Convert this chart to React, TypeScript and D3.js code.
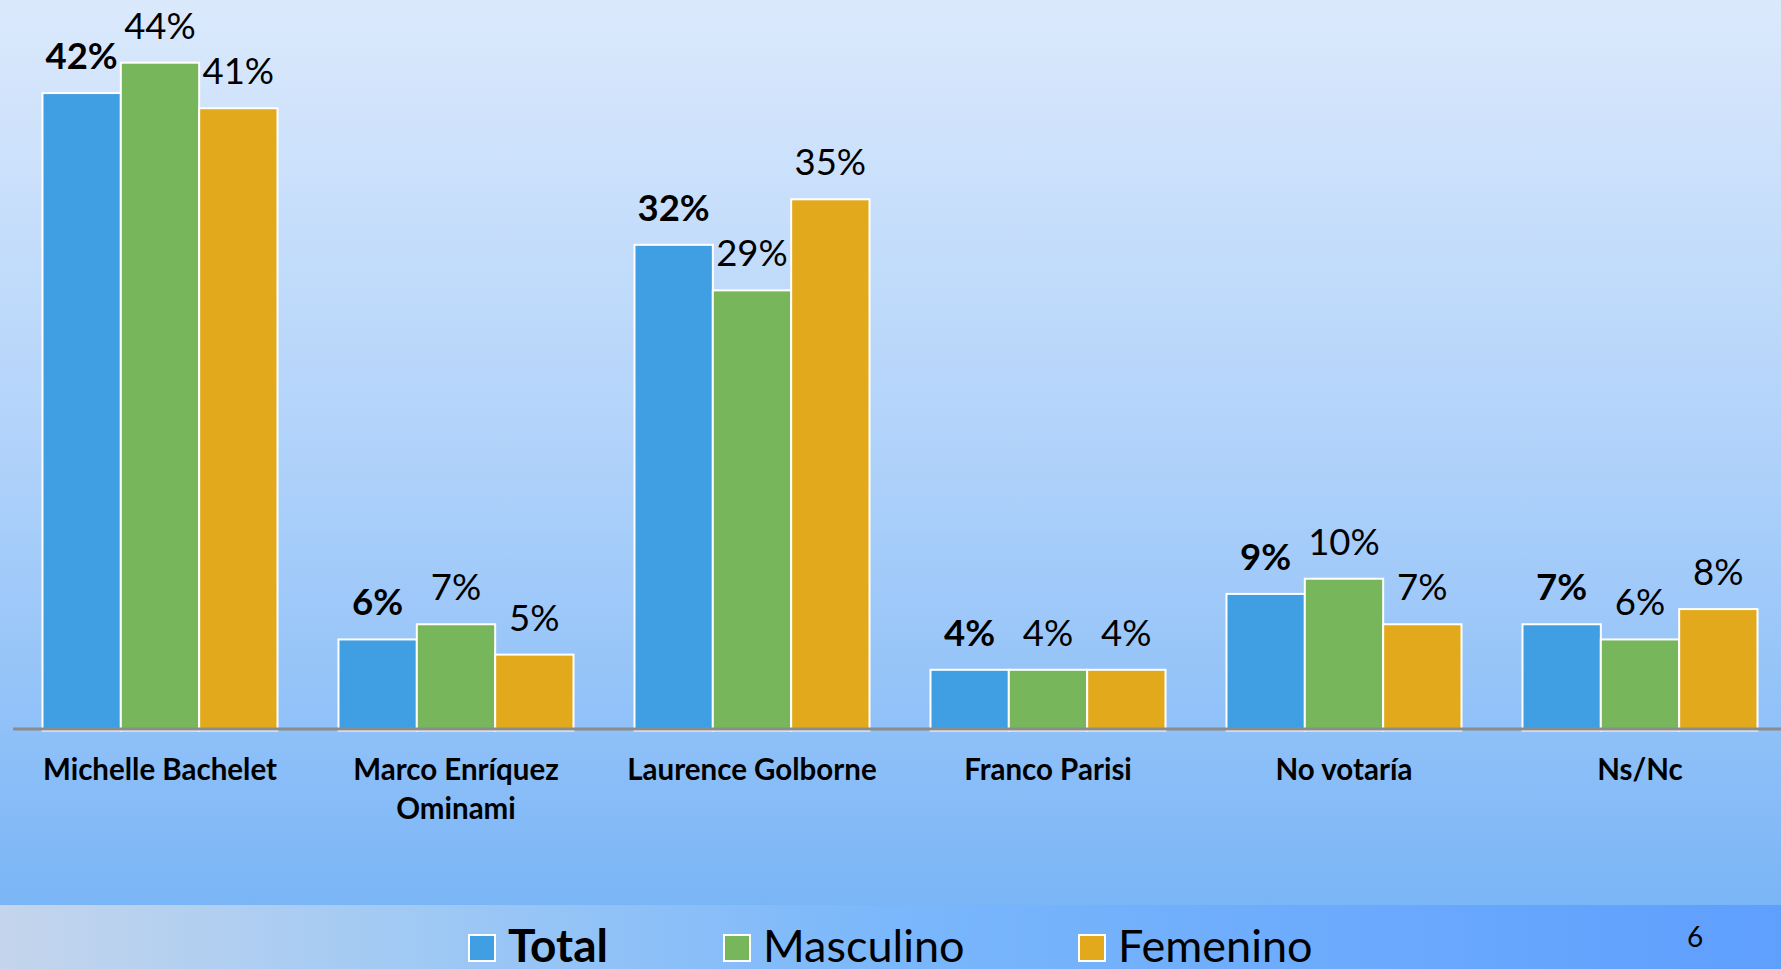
import React, { useRef, useEffect } from 'react';
import * as d3 from 'd3';

const categories = [
  ['Michelle Bachelet'],
  ['Marco Enríquez', 'Ominami'],
  ['Laurence Golborne'],
  ['Franco Parisi'],
  ['No votaría'],
  ['Ns/Nc'],
];
const seriesNames = ['Total', 'Masculino', 'Femenino'];
const totalValues = [42, 6, 32, 4, 9, 7];
const masculinoValues = [44, 7, 29, 4, 10, 6];
const femeninoValues = [41, 5, 35, 4, 7, 8];
const seriesColors = ['#409ee2', '#77b65a', '#e2a91c'];
const pageNumber = '6';

function App() {
  const svgRef = useRef<SVGSVGElement>(null);

  useEffect(() => {
    const svg = d3.select(svgRef.current);
    svg.selectAll('*').remove();

    const width = 1781;
    const height = 969;
    const bandTop = 905;
    const baseY = 730.5;
    const font = 'Lato, "Open Sans", sans-serif';

    const values = [totalValues, masculinoValues, femeninoValues];
    const data = categories.map((c, i) => ({
      key: c.join(' '),
      lines: c,
      vals: seriesNames.map((s, j) => ({ series: s, idx: j, v: values[j][i] })),
    }));

    // backgrounds
    const defs = svg.append('defs');
    const bg = defs.append('linearGradient').attr('id', 'bg')
      .attr('x1', 0).attr('y1', 0).attr('x2', 0).attr('y2', 1);
    [['0', '#dbe9fc'], ['0.5', '#b0d2fa'], ['0.8', '#90c1f8'], ['1', '#7ab5f6']]
      .forEach(([o, c]) => bg.append('stop').attr('offset', o).attr('stop-color', c));
    const band = defs.append('linearGradient').attr('id', 'band')
      .attr('x1', 0).attr('y1', 0).attr('x2', 1).attr('y2', 0);
    [['0', '#c4d5ec'], ['0.22', '#a2caf4'], ['0.5', '#7ab7fb'], ['0.78', '#6aa9fd'], ['1', '#5f9ffe']]
      .forEach(([o, c]) => band.append('stop').attr('offset', o).attr('stop-color', c));

    svg.append('rect').attr('width', width).attr('height', bandTop).attr('fill', 'url(#bg)');
    svg.append('rect').attr('y', bandTop).attr('width', width).attr('height', height - bandTop)
      .attr('fill', 'url(#band)');

    const x0 = d3.scaleBand()
      .domain(data.map(d => d.key))
      .range([12, 1788])
      .paddingInner(0.206)
      .paddingOuter(0.103);

    const x1 = d3.scaleBand()
      .domain(seriesNames)
      .range([0, x0.bandwidth()]);

    const y = d3.scaleLinear()
      .domain([0, 48])
      .range([baseY, 2]);

    const color = d3.scaleOrdinal<string, string>().domain(seriesNames).range(seriesColors);

    const groups = svg.append('g')
      .selectAll('g')
      .data(data)
      .join('g')
      .attr('transform', d => `translate(${x0(d.key)},0)`);

    groups.selectAll('rect')
      .data(d => d.vals)
      .join('rect')
      .attr('x', d => x1(d.series)!)
      .attr('y', d => y(d.v))
      .attr('width', x1.bandwidth())
      .attr('height', d => y(0) - y(d.v))
      .attr('fill', d => color(d.series))
      .attr('stroke', '#fff')
      .attr('stroke-width', 2);

    groups.selectAll('text.val')
      .data(d => d.vals)
      .join('text')
      .attr('class', 'val')
      .attr('x', d => x1(d.series)! + x1.bandwidth() / 2)
      .attr('y', d => y(d.v) - 24)
      .attr('text-anchor', 'middle')
      .attr('font-family', font)
      .attr('font-size', 36.5)
      .attr('font-weight', d => (d.idx === 0 ? 700 : 400))
      .attr('fill', '#000')
      .text(d => `${d.v}%`);

    // axis line
    svg.append('line')
      .attr('x1', 13).attr('x2', width)
      .attr('y1', 729).attr('y2', 729)
      .attr('stroke', '#8c8c8c')
      .attr('stroke-width', 3);

    // category labels
    const labels = svg.append('g')
      .selectAll('text')
      .data(data)
      .join('text')
      .attr('x', d => x0(d.key)! + x0.bandwidth() / 2)
      .attr('y', 780)
      .attr('text-anchor', 'middle')
      .attr('font-family', font)
      .attr('font-size', 29.5)
      .attr('font-weight', 700)
      .attr('fill', '#000');
    labels.selectAll('tspan')
      .data(d => d.lines.map(l => ({ l, x: x0(d.key)! + x0.bandwidth() / 2 })))
      .join('tspan')
      .attr('x', d => d.x)
      .attr('dy', (d, i) => (i === 0 ? 0 : 39))
      .text(d => d.l);

    // legend
    const legendX = [469, 724, 1079];
    const legend = svg.append('g')
      .selectAll('g')
      .data(seriesNames)
      .join('g')
      .attr('transform', (d, i) => `translate(${legendX[i]},935)`);
    legend.append('rect')
      .attr('width', 26).attr('height', 26)
      .attr('fill', d => color(d))
      .attr('stroke', '#fff')
      .attr('stroke-width', 2);
    legend.append('text')
      .attr('x', 39)
      .attr('y', 27)
      .attr('font-family', font)
      .attr('font-size', (d, i) => (i === 0 ? 46 : 45))
      .attr('font-weight', (d, i) => (i === 0 ? 700 : 400))
      .attr('fill', '#000')
      .text(d => d);

    svg.append('text')
      .attr('x', 1695)
      .attr('y', 947)
      .attr('text-anchor', 'middle')
      .attr('font-family', font)
      .attr('font-size', 28)
      .attr('fill', '#000')
      .text(pageNumber);
  }, []);

  return (
    <svg
      ref={svgRef}
      width={1781}
      height={969}
      style={{ position: 'absolute', top: 0, left: 0, display: 'block' }}
    ></svg>
  );
}

export default App;
